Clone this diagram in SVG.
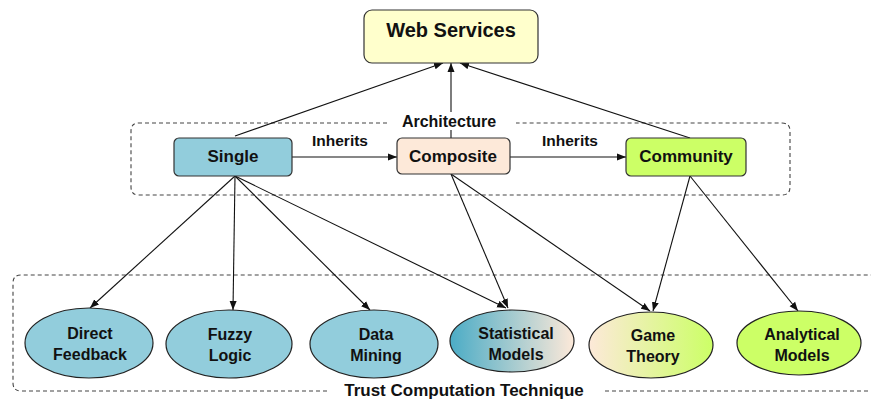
<svg xmlns="http://www.w3.org/2000/svg" width="871" height="401" viewBox="0 0 871 401">
<style>
text{font-family:"Liberation Sans",Arial,Helvetica,sans-serif;font-weight:bold;fill:#111;text-anchor:middle}
.box{stroke:#333;stroke-width:1.2}
.ell{stroke:#222;stroke-width:1.2}
.dash{fill:none;stroke:#444;stroke-width:1.1;stroke-dasharray:4,3}
.c{stroke:#111;stroke-width:1.1;fill:none;marker-end:url(#ah)}
</style>
<defs>
<marker id="ah" markerWidth="10" markerHeight="8" refX="9" refY="4" orient="auto" markerUnits="userSpaceOnUse">
<path d="M0,0.5 L9,4 L0,7.5 Z" fill="#111"/>
</marker>
<linearGradient id="gStat" x1="0" y1="0" x2="1" y2="0">
<stop offset="0" stop-color="#4BACC6"/>
<stop offset="1" stop-color="#FDE9D9"/>
</linearGradient>
<linearGradient id="gGame" x1="0" y1="0" x2="1" y2="0">
<stop offset="0" stop-color="#FDE9D9"/>
<stop offset="1" stop-color="#CCFF66"/>
</linearGradient>
</defs>
<rect width="871" height="401" fill="#fff"/>
<g id="group-architecture">
<path class="dash" d="M387,123 H139 Q131,123 131,131 V187 Q131,195 139,195 H782 Q790,195 790,187 V131 Q790,123 782,123 H516"/>
</g>
<g id="group-trust">
<path class="dash" d="M327,391 H21 Q13,391 13,383 V283 Q13,275 21,275 H871"/>
<path class="dash" d="M605,391 H871"/>
</g>
<g id="connectors">
<path class="c" d="M235,136 L443,63"/>
<path class="c" d="M451,138 L451,63"/>
<path class="c" d="M690,138 L460,63"/>
<path class="c" d="M292,157 L397,157"/>
<path class="c" d="M510,157 L626,157"/>
<path class="c" d="M235,176 L90,308"/>
<path class="c" d="M235,176 L233,310"/>
<path class="c" d="M235,176 L370,310"/>
<path class="c" d="M235,176 L506,308"/>
<path class="c" d="M451,174 L508,308"/>
<path class="c" d="M451,174 L650,311"/>
<path class="c" d="M690,176 L653,311"/>
<path class="c" d="M690,176 L798,311"/>
</g>
<g id="label-architecture">
<rect x="395" y="112" width="110" height="18" fill="#fff"/>
<text x="449" y="127" font-size="16">Architecture</text>
</g>
<g id="label-inherits-1"><text x="340" y="146" font-size="15.5">Inherits</text></g>
<g id="label-inherits-2"><text x="570" y="146" font-size="15.5">Inherits</text></g>
<g id="node-web-services">
<rect class="box" x="364" y="10" width="174" height="53" rx="8" fill="#FFFFCC"/>
<text x="451" y="37" font-size="20">Web Services</text>
</g>
<g id="node-single">
<rect class="box" x="174" y="138" width="118" height="38" rx="5" fill="#92CDDC"/>
<text x="233" y="162" font-size="17">Single</text>
</g>
<g id="node-composite">
<rect class="box" x="397" y="138" width="113" height="36" rx="5" fill="#FDE9D9"/>
<text x="453" y="162" font-size="17">Composite</text>
</g>
<g id="node-community">
<rect class="box" x="626" y="138" width="120" height="38" rx="5" fill="#CCFF66"/>
<text x="686" y="162" font-size="17">Community</text>
</g>
<g id="node-direct-feedback">
<ellipse class="ell" cx="89" cy="343" rx="64" ry="35" fill="#92CDDC"/>
<text x="90" y="339" font-size="16">Direct</text>
<text x="90" y="360" font-size="16">Feedback</text>
</g>
<g id="node-fuzzy-logic">
<ellipse class="ell" cx="229" cy="344" rx="63" ry="34" fill="#92CDDC"/>
<text x="230" y="340" font-size="16">Fuzzy</text>
<text x="230" y="361" font-size="16">Logic</text>
</g>
<g id="node-data-mining">
<ellipse class="ell" cx="374" cy="344" rx="64" ry="34" fill="#92CDDC"/>
<text x="376" y="340" font-size="16">Data</text>
<text x="376" y="361" font-size="16">Mining</text>
</g>
<g id="node-statistical-models">
<ellipse class="ell" cx="512" cy="341" rx="62" ry="31" fill="url(#gStat)"/>
<text x="516" y="339" font-size="16">Statistical</text>
<text x="516" y="360" font-size="16">Models</text>
</g>
<g id="node-game-theory">
<ellipse class="ell" cx="651" cy="345" rx="62" ry="33" fill="url(#gGame)"/>
<text x="653" y="341" font-size="16">Game</text>
<text x="653" y="362" font-size="16">Theory</text>
</g>
<g id="node-analytical-models">
<ellipse class="ell" cx="799" cy="343" rx="62" ry="32" fill="#CCFF66"/>
<text x="802" y="340" font-size="16">Analytical</text>
<text x="802" y="361" font-size="16">Models</text>
</g>
<g id="label-trust">
<text x="464" y="396" font-size="17">Trust Computation Technique</text>
</g>
</svg>
